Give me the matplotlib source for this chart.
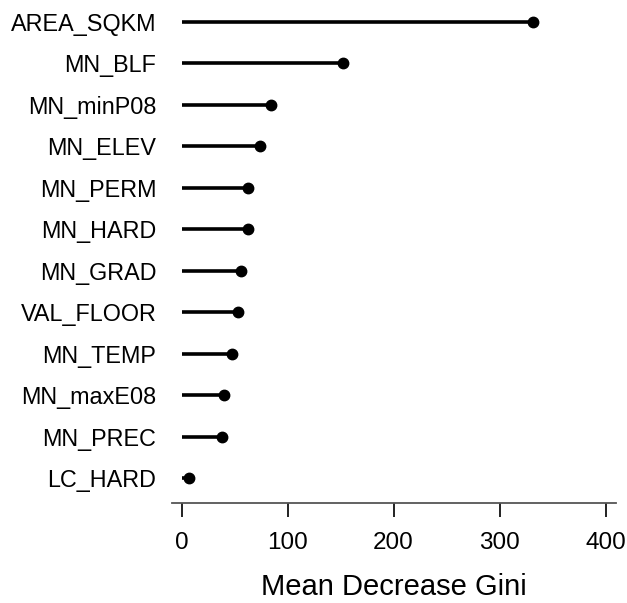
import matplotlib
matplotlib.use("Agg")
import matplotlib.pyplot as plt

# variable importance (random forest), top row first
variables = ["AREA_SQKM", "MN_BLF", "MN_minP08", "MN_ELEV", "MN_PERM", "MN_HARD",
             "MN_GRAD", "VAL_FLOOR", "MN_TEMP", "MN_maxE08", "MN_PREC", "LC_HARD"]
gini = [332, 152, 84, 74, 62.3, 62.3, 56, 53.4, 47.8, 40, 38.3, 7.2]
xticks = [0, 100, 200, 300, 400]

plt.rcParams['font.family'] = ['Liberation Sans', 'DejaVu Sans']

fig = plt.figure(figsize=(6.27, 6.03), dpi=100)
ax = fig.add_axes([0.2738, 0.1663, 0.7087, 0.8337])

n = len(variables)
ypos = list(range(n, 0, -1))

ax.hlines(ypos, 0, gini, color='black', lw=2.6)
ax.plot(gini, ypos, 'o', color='black', ms=7.5)

ax.set_xlim(-9.4, 409.9)
ax.set_ylim(0.41, 12.52)

ax.set_yticks(ypos)
ax.set_yticklabels(variables, fontsize=16.8)
ax.tick_params(axis='y', length=0, pad=11)

ax.set_xticks(xticks)
ax.tick_params(axis='x', length=10, width=1.4, pad=11, labelsize=17.5, color='#222222')
ax.set_xlabel('Mean Decrease Gini', fontsize=21, labelpad=14)

for s in ['top', 'right', 'left']:
    ax.spines[s].set_visible(False)
ax.spines['bottom'].set_color('#555555')
ax.spines['bottom'].set_linewidth(1.3)

fig.savefig('out.png', dpi=100)
